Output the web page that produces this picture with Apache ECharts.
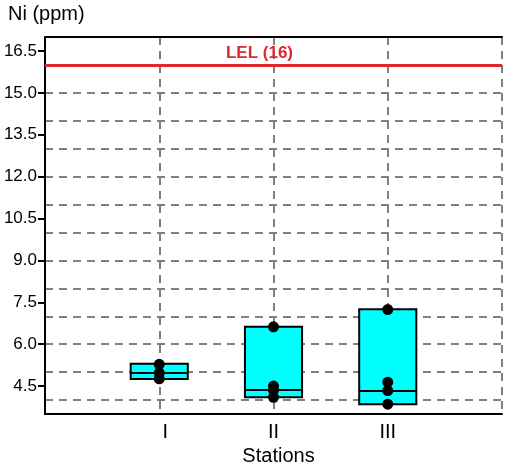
<!DOCTYPE html>
<html>
<head>
<meta charset="utf-8">
<script src="https://cdn.jsdelivr.net/npm/echarts@6/dist/echarts.min.js"></script>
<style>html,body{margin:0;padding:0;background:#fff}#c{width:506px;height:466px}</style>
</head>
<body>
<div id="c"></div>
<script>
// ---- data ----
const stations = ['I', 'II', 'III'];
const stationPos = [1, 2, 3];
const boxLow = [4.75, 4.10, 3.85];
const boxMedian = [4.97, 4.36, 4.32];
const boxHigh = [5.30, 6.62, 7.25];
const pointsI = [5.28, 4.97, 4.76];
const pointsII = [6.62, 4.50, 4.35, 4.10];
const pointsIII = [7.24, 4.64, 4.34, 3.85];
const yTickLabels = [4.5, 6.0, 7.5, 9.0, 10.5, 12.0, 13.5, 15.0, 16.5];
const yGridValues = [4, 5, 6, 7, 8, 9, 10, 11, 12, 13, 14, 15];
const lelValue = 16;
const lelLabel = 'LEL (16)';

const allPoints = [pointsI, pointsII, pointsIII];
const boxData = stationPos.map((x, i) => [x, boxLow[i], boxMedian[i], boxHigh[i]]);
const scatterData = [];
allPoints.forEach((arr, i) => arr.forEach(v => scatterData.push([stationPos[i], v])));

const HALF = 0.25;
const FONT = "'Liberation Sans', Arial, sans-serif";
const gridLine = { show: true, lineStyle: { color: '#808080', width: 2, type: [8, 6] } };

const chart = echarts.init(document.getElementById('c'), null, { renderer: 'canvas' });
chart.setOption({
  animation: false,
  backgroundColor: '#fff',
  grid: { left: 45, right: 4, top: 37, bottom: 52, containLabel: false, outerBoundsMode: 'none' },
  xAxis: [{
    type: 'value', min: 0, max: 4, interval: 1, position: 'bottom',
    name: 'Stations', nameLocation: 'middle', nameGap: 30,
    nameTextStyle: { fontFamily: FONT, fontSize: 20, color: '#000', padding: [0, 0, 0, 10] },
    axisLine: { show: true, lineStyle: { color: '#000', width: 2 } },
    axisTick: { show: false },
    axisLabel: {
      fontFamily: FONT, fontSize: 20, color: '#000', margin: 8,
      formatter: v => {
        const i = stationPos.indexOf(v);
        if (i < 0) return '';
        return i === 0 ? '{s|' + stations[i] + '}' : stations[i];
      },
      rich: { s: { fontFamily: FONT, fontSize: 20, color: '#000', padding: [0, 0, 0, 12] } }
    },
    splitLine: gridLine
  }, {
    type: 'value', min: 0, max: 4, position: 'top',
    axisLine: { show: true, onZero: false, lineStyle: { color: '#000', width: 2 } },
    axisTick: { show: false }, axisLabel: { show: false }, splitLine: { show: false }
  }],
  yAxis: [{
    type: 'value', min: 3.5, max: 17, position: 'left',
    name: 'Ni (ppm)', nameLocation: 'end', nameGap: 13,
    nameTextStyle: { fontFamily: FONT, fontSize: 20, color: '#000', align: 'left', padding: [0, 0, 0, -37] },
    axisLine: { show: true, onZero: false, lineStyle: { color: '#000', width: 2 } },
    axisTick: { show: true, length: 7, customValues: yTickLabels, lineStyle: { color: '#000', width: 2 } },
    axisLabel: { customValues: yTickLabels, fontFamily: FONT, fontSize: 17, color: '#000', margin: 8,
      formatter: v => v.toFixed(1) },
    splitLine: { show: false }
  }, {
    type: 'value', min: 3.5, max: 17, position: 'left',
    axisLine: { show: false }, axisLabel: { show: false },
    axisTick: { show: false, customValues: yGridValues },
    splitLine: gridLine
  }],
  series: [{
    type: 'custom',
    xAxisIndex: 0, yAxisIndex: 0,
    data: boxData,
    z: 3,
    renderItem: (params, api) => {
      const x = api.value(0), lo = api.value(1), med = api.value(2), hi = api.value(3);
      const p1 = api.coord([x - HALF, hi]);
      const p2 = api.coord([x + HALF, lo]);
      const m1 = api.coord([x - HALF, med]);
      const m2 = api.coord([x + HALF, med]);
      return {
        type: 'group', children: [
          { type: 'rect', shape: { x: p1[0], y: p1[1], width: p2[0] - p1[0], height: p2[1] - p1[1] },
            style: { fill: '#00ffff', stroke: '#000', lineWidth: 2 } },
          { type: 'line', shape: { x1: m1[0], y1: m1[1], x2: m2[0], y2: m2[1] },
            style: { stroke: '#000', lineWidth: 2 } }
        ]
      };
    },
    markLine: {
      silent: true, symbol: 'none',
      lineStyle: { color: '#e0262e', width: 3, type: 'solid' },
      label: { show: true, position: 'insideMiddleTop', formatter: lelLabel, color: '#e0262e',
        fontFamily: FONT, fontWeight: 'bold', fontSize: 17, distance: 3, padding: [0, 28, 0, 0] },
      data: [{ yAxis: lelValue }]
    }
  }, {
    type: 'scatter', xAxisIndex: 0, yAxisIndex: 0, z: 4,
    symbol: 'circle', symbolSize: 11,
    itemStyle: { color: '#000', opacity: 1 },
    data: scatterData
  }]
});
</script>
</body>
</html>
